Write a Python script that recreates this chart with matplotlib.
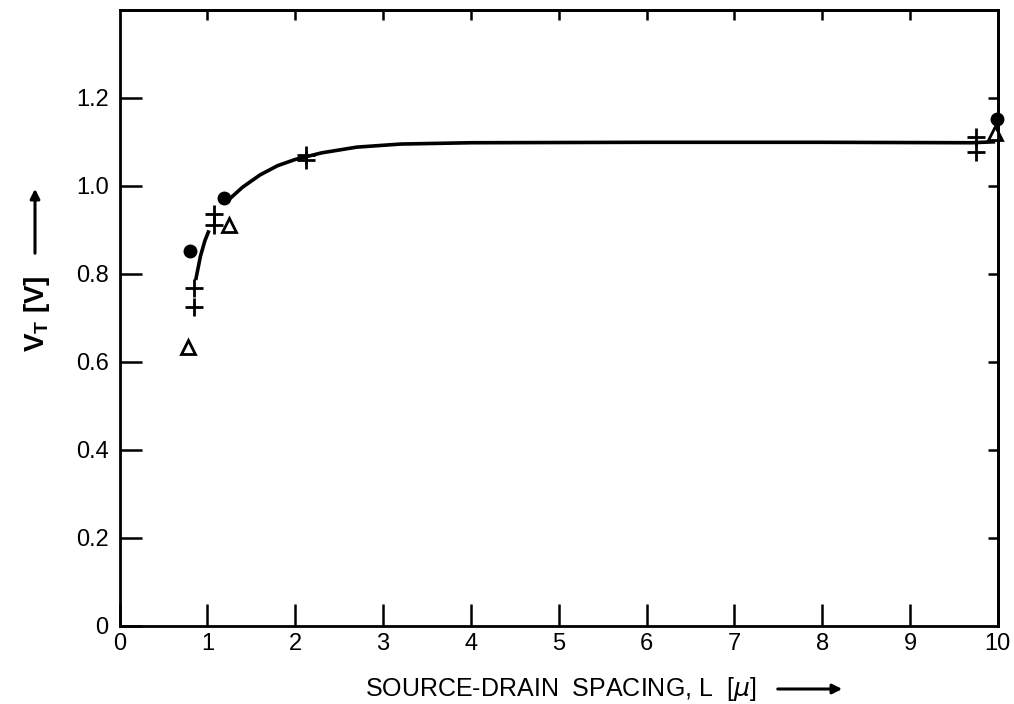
import numpy as np
import matplotlib
matplotlib.use("Agg")
from matplotlib import pyplot as plt

plt.rcParams['font.family'] = ['Liberation Sans', 'DejaVu Sans']

dot_L = [0.80, 1.19, 9.99]
dot_V = [0.851, 0.973, 1.152]

plus_L = [0.85, 0.85, 1.08, 1.08, 2.12, 2.12, 9.75, 9.75]
plus_V = [0.767, 0.724, 0.935, 0.912, 1.07, 1.058, 1.112, 1.078]

tri_L = [0.78, 1.25, 9.97]
tri_V = [0.634, 0.91, 1.12]

# hand drawn trend curve (gap where it passes behind markers)
curve_L = [0.87, 0.92, 0.97, 1.01, np.nan, 1.25, 1.4, 1.6, 1.8, 2.0, 2.3, 2.7, 3.2, 4.0, 6.0, 8.0, 9.7, 9.95]
curve_V = [0.79, 0.84, 0.875, 0.895, np.nan, 0.97, 0.997, 1.025, 1.046, 1.06, 1.075, 1.088, 1.095, 1.098, 1.099, 1.099, 1.098, 1.1]

xticks = [0, 1, 2, 3, 4, 5, 6, 7, 8, 9, 10]
yticks = [0, 0.2, 0.4, 0.6, 0.8, 1.0, 1.2]
ytlabels = ["0", "0.2", "0.4", "0.6", "0.8", "1.0", "1.2"]

fig = plt.figure(figsize=(10.14, 7.04), dpi=100)
ax = fig.add_axes([0.118, 0.111, 0.866, 0.875])

ax.plot(curve_L, curve_V, color="black", lw=2.6)
ax.plot(dot_L, dot_V, "o", color="black", ms=9, clip_on=False)
ax.plot(plus_L, plus_V, "+", color="black", ms=13, mew=2, clip_on=False)
ax.plot(tri_L, tri_V, "^", mfc="white", mec="black", ms=10, mew=2, clip_on=False)

ax.set_xlim(0, 10)
ax.set_ylim(0, 1.4)
ax.set_xticks(xticks)
ax.set_yticks(yticks)
ax.set_yticklabels(ytlabels)
ax.tick_params(direction="in", length=16, width=1.8, labelsize=17)
ax.tick_params(axis="x", pad=5)
ax.tick_params(axis="y", pad=8)
for s in ax.spines.values():
    s.set_linewidth(2)

top = ax.secondary_xaxis("top")
top.set_xticks(xticks[1:-1])
top.tick_params(direction="in", length=7, width=1.8, labeltop=False)
top.spines["top"].set_linewidth(2)
right = ax.secondary_yaxis("right")
right.set_yticks(yticks[1:])
right.tick_params(direction="in", length=7, width=1.8, labelright=False)
right.spines["right"].set_linewidth(2)

fig.text(0.553, 0.021, r"SOURCE-DRAIN  SPACING, L  [$\mu$]", ha="center", va="center", fontsize=18)
fig.text(0.036, 0.555, r"V$_\mathregular{T}$ [V]", rotation=90, ha="center", va="center",
         fontsize=20, fontweight="bold")

ax.annotate("", xy=(845 / 1014, 1 - 689 / 704), xytext=(775 / 1014, 1 - 689 / 704),
            xycoords="figure fraction", textcoords="figure fraction",
            arrowprops=dict(arrowstyle="-|>", color="black", lw=2.2, mutation_scale=14))
ax.annotate("", xy=(35 / 1014, 1 - 186 / 704), xytext=(35 / 1014, 1 - 256 / 704),
            xycoords="figure fraction", textcoords="figure fraction",
            arrowprops=dict(arrowstyle="-|>", color="black", lw=2.2, mutation_scale=14))

plt.savefig("out.png", dpi=100)
